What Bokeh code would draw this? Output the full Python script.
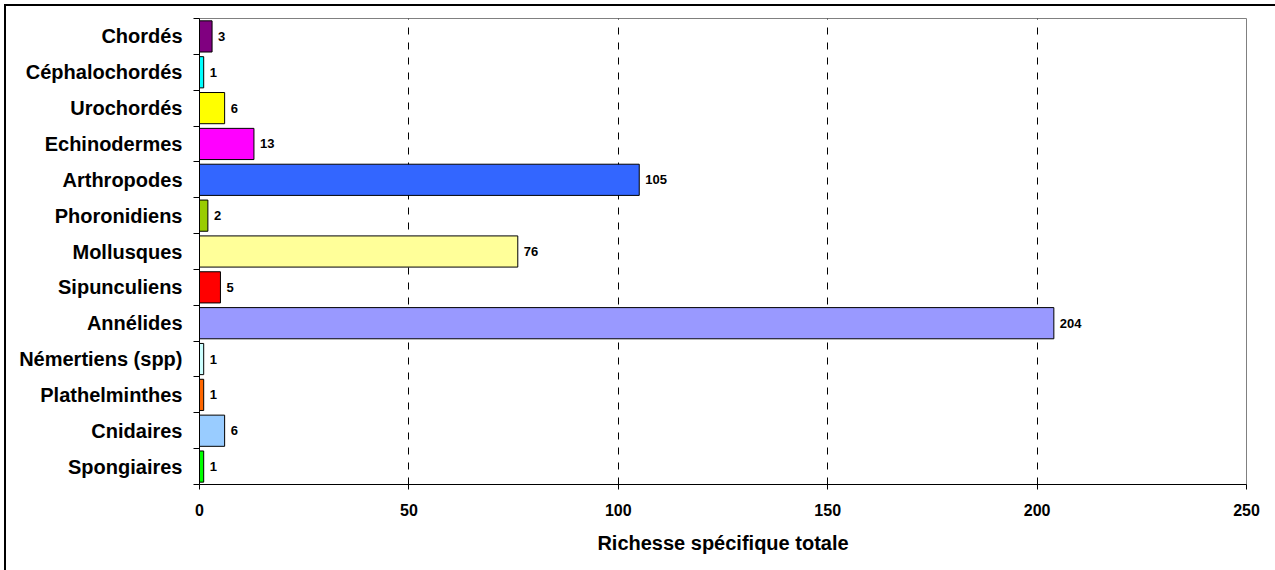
from bokeh.plotting import figure
from bokeh.models import Range1d, FixedTicker, ColumnDataSource
from bokeh.core.properties import value
from bokeh.embed import file_html
from bokeh.resources import INLINE

# Data (top to bottom as in the chart)
categories = ["Chordés", "Céphalochordés", "Urochordés", "Echinodermes", "Arthropodes",
              "Phoronidiens", "Mollusques", "Sipunculiens", "Annélides", "Némertiens (spp)",
              "Plathelminthes", "Cnidaires", "Spongiaires"]
richesse = [3, 1, 6, 13, 105, 2, 76, 5, 204, 1, 1, 6, 1]
colors = ["#800080", "#00FFFF", "#FFFF00", "#FF00FF", "#3366FF", "#99CC00", "#FFFF99",
          "#FF0000", "#9999FF", "#CCFFFF", "#FF6600", "#99CCFF", "#00FF00"]
x_ticks = [0, 50, 100, 150, 200, 250]
x_title = "Richesse spécifique totale"

n = len(categories)
ypos = [n - i - 0.5 for i in range(n)]
boundaries = [float(k) for k in range(n + 1)]

src = ColumnDataSource(dict(y=ypos, v=richesse, c=colors, lab=[str(v) for v in richesse]))

FONT = "Liberation Sans"

p = figure(frame_width=1047, frame_height=466,
           min_border_left=193, min_border_top=12, min_border_right=29, min_border_bottom=86,
           x_range=Range1d(0, 250), y_range=Range1d(0, n),
           output_backend="svg", toolbar_location=None)
p.styles = {"border-top": "2px solid black", "border-left": "2px solid black",
            "margin-top": "4px", "margin-left": "4px"}

p.hbar(y="y", left=0, right="v", height=0.87, fill_color="c", line_color="#000000",
       line_width=1, source=src)
p.text(x="v", y="y", text="lab", x_offset=6, text_align="left", text_baseline="middle",
       text_font=value(FONT), text_font_style="bold", text_font_size="13px",
       text_color="black", source=src)

# x axis
p.xaxis.ticker = FixedTicker(ticks=x_ticks)
p.xaxis.axis_label = x_title
p.xaxis.axis_label_text_font = FONT
p.xaxis.axis_label_text_font_style = "bold"
p.xaxis.axis_label_text_font_size = "20px"
p.xaxis.axis_label_text_color = "black"
p.xaxis.axis_label_standoff = 13
p.xaxis.major_label_text_font = FONT
p.xaxis.major_label_text_font_style = "bold"
p.xaxis.major_label_text_font_size = "16px"
p.xaxis.major_label_text_color = "black"
p.xaxis.major_label_standoff = 14
p.xaxis.major_tick_out = 5
p.xaxis.major_tick_in = 0
p.xaxis.minor_tick_line_color = None
p.xaxis.axis_line_color = "black"
p.xaxis.major_tick_line_color = "black"

# y axis
p.yaxis.ticker = FixedTicker(ticks=ypos, minor_ticks=boundaries)
p.yaxis.major_label_overrides = {y: c for y, c in zip(ypos, categories)}
p.yaxis.major_label_text_font = FONT
p.yaxis.major_label_text_font_style = "bold"
p.yaxis.major_label_text_font_size = "20px"
p.yaxis.major_label_text_color = "black"
p.yaxis.major_tick_line_color = None
p.yaxis.major_tick_out = 0
p.yaxis.major_tick_in = 0
p.yaxis.major_label_standoff = 11
p.yaxis.minor_tick_line_color = "black"
p.yaxis.minor_tick_out = 6
p.yaxis.minor_tick_in = 0
p.yaxis.axis_line_color = "black"

# grid
p.xgrid.ticker = FixedTicker(ticks=x_ticks[1:-1])
p.xgrid.grid_line_color = "black"
p.xgrid.grid_line_dash = "7 8"
p.xgrid.grid_line_width = 1
p.ygrid.grid_line_color = None

p.outline_line_color = "#808080"
p.outline_line_width = 1
p.background_fill_color = "white"
p.border_fill_color = "white"

open("out.html", "w").write(file_html(p, INLINE))
